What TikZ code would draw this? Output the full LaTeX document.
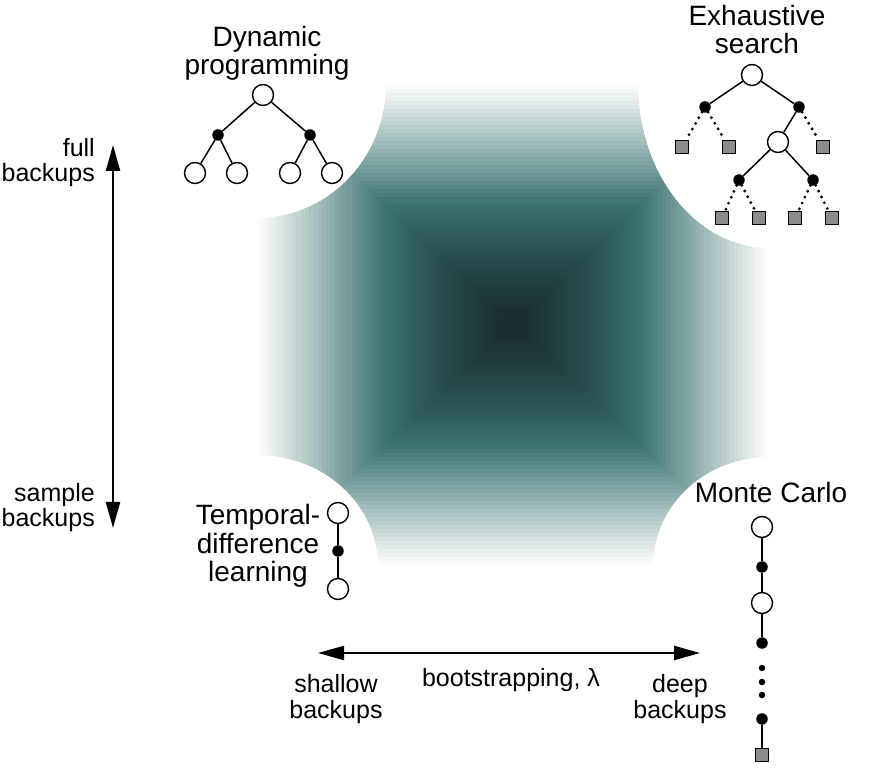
\documentclass[tikz,border=0pt]{standalone}
\usepackage{fontspec}
\setmainfont{Liberation Sans}
\usetikzlibrary{arrows.meta}
\definecolor{tealmid}{RGB}{58,115,113}
\definecolor{tealdark}{RGB}{26,44,46}
\definecolor{sqgray}{RGB}{140,140,140}
\tikzset{
  opn/.style={circle, draw=black, fill=white, line width=1.4pt, minimum size=21pt, inner sep=0pt},
  blk/.style={circle, fill=black, minimum size=11.5pt, inner sep=0pt},
  smalldot/.style={circle, fill=black, minimum size=6.5pt, inner sep=0pt},
  sq/.style={rectangle, draw=black, fill=sqgray, line width=1.3pt, minimum size=13pt, inner sep=0pt},
  edge/.style={line width=1.5pt},
  dotedge/.style={line width=3.2pt, line cap=round, dash pattern=on 0pt off 6.5pt},
  title/.style={font=\fontsize{28}{28.5}\selectfont, align=center, inner sep=0pt},
  axislbl/.style={font=\fontsize{25}{25.5}\selectfont, inner sep=0pt},
  dblarrow/.style={line width=2.4pt, {Triangle[length=26pt,width=14pt]}-{Triangle[length=26pt,width=14pt]}},
}
\begin{document}
\begin{tikzpicture}[x=1pt,y=1pt]
\useasboundingbox (0,0) rectangle (873,777);
% shaded field with concave corners
\begin{scope}
\clip (386,692) -- (638,692)
  arc[start angle=180,end angle=270,x radius=130,y radius=163]
  -- (768,320)
  arc[start angle=90,end angle=180,x radius=115,y radius=108]
  -- (378,212)
  arc[start angle=0,end angle=90,x radius=120,y radius=110]
  -- (258,559)
  arc[start angle=270,end angle=360,x radius=128,y radius=133]
  -- cycle;
\foreach \i in {0,...,59}{
  \pgfmathsetmacro\shT{1-\i/60}
  \pgfmathsetmacro\shC{1-(\i+0.6)/60}
  \pgfmathsetmacro\mixA{min(100,(1-\shC)/(1-0.5)*100)}
  \pgfmathsetmacro\mixB{min(100,(min(1,\shC/0.5))^1.3*100)}
  \colorlet{cc}{tealmid!\mixB!tealdark}
  \fill[cc!\mixA!white] (513-255*\shT,452-240*\shT) rectangle (513+255*\shT,452+240*\shT);
}
\end{scope}

% Dynamic programming
\node[title, anchor=base] (dptxt) at (267,702) {Dynamic\\programming};
\node[opn] (dp0) at (263,682) {};
\node[blk] (dp1) at (218,642) {};
\node[blk] (dp2) at (310,642) {};
\node[opn] (dp3) at (195,604) {};
\node[opn] (dp4) at (237,604) {};
\node[opn] (dp5) at (290,604) {};
\node[opn] (dp6) at (332,604) {};
\draw[edge] (dp0) -- (dp1);
\draw[edge] (dp0) -- (dp2);
\draw[edge] (dp1) -- (dp3);
\draw[edge] (dp1) -- (dp4);
\draw[edge] (dp2) -- (dp5);
\draw[edge] (dp2) -- (dp6);

% Exhaustive search
\node[title, anchor=base] (estxt) at (757,723) {Exhaustive\\search};
\node[opn] (es0) at (752,702) {};
\node[blk] (es1) at (705,670) {};
\node[blk] (es2) at (799,670) {};
\node[sq] (es3) at (682,630) {};
\node[sq] (es4) at (729,630) {};
\node[opn] (es5) at (778,635) {};
\node[sq] (es6) at (823,630) {};
\node[blk] (es7) at (739,597) {};
\node[blk] (es8) at (813,597) {};
\node[sq] (es9) at (722,559) {};
\node[sq] (es10) at (759,559) {};
\node[sq] (es11) at (795,559) {};
\node[sq] (es12) at (832,559) {};
\draw[edge] (es0) -- (es1);
\draw[edge] (es0) -- (es2);
\draw[edge] (es2) -- (es5);
\draw[edge] (es5) -- (es7);
\draw[edge] (es5) -- (es8);
\draw[dotedge] (es1) -- (es3);
\draw[dotedge] (es1) -- (es4);
\draw[dotedge] (es2) -- (es6);
\draw[dotedge] (es7) -- (es9);
\draw[dotedge] (es7) -- (es10);
\draw[dotedge] (es8) -- (es11);
\draw[dotedge] (es8) -- (es12);

% Temporal-difference learning
\node[title, anchor=base] (tdtxt) at (258,195) {Temporal-\\difference\\learning};
\node[opn] (td0) at (338,264) {};
\node[blk] (td1) at (338,226) {};
\node[opn] (td2) at (338,188) {};
\draw[edge] (td0) -- (td1);
\draw[edge] (td1) -- (td2);

% Monte Carlo
\node[title, anchor=base] (mctxt) at (771,274) {Monte Carlo};
\node[opn] (mc0) at (762,250) {};
\node[blk] (mc1) at (762,210) {};
\node[opn] (mc2) at (762,174) {};
\node[blk] (mc3) at (762,134) {};
\node[smalldot] (mc4) at (762,109) {};
\node[smalldot] (mc5) at (762,95) {};
\node[smalldot] (mc6) at (762,82) {};
\node[blk] (mc7) at (762,58) {};
\node[sq] (mc8) at (762,22) {};
\draw[edge] (mc0) -- (mc1);
\draw[edge] (mc1) -- (mc2);
\draw[edge] (mc2) -- (mc3);
\draw[edge] (mc7) -- (mc8);

% vertical axis
\coordinate (vtop) at (113,632);
\coordinate (vbot) at (113,249);
\draw[dblarrow] (vtop) -- (vbot);
\node[axislbl, align=right, anchor=base east] (fulltxt) at (95,595) {full\\backups};
\node[axislbl, align=right, anchor=base east] (samptxt) at (95,250) {sample\\backups};

% horizontal axis
\coordinate (hleft) at (318,124);
\coordinate (hright) at (700,124);
\draw[dblarrow] (hleft) -- (hright);
\node[axislbl, anchor=base] (bstxt) at (511,91) {bootstrapping, λ};
\node[axislbl, align=center, anchor=base] (shtxt) at (336,59) {shallow\\backups};
\node[axislbl, align=center, anchor=base] (dptxt2) at (680,59) {deep\\backups};
\end{tikzpicture}
\end{document}
